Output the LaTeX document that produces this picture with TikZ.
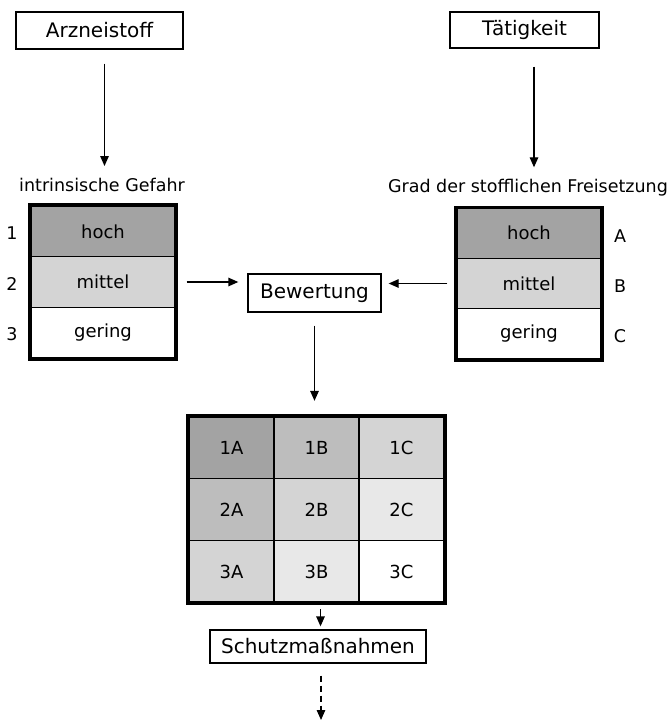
\documentclass[tikz,border=0pt]{standalone}
\usepackage{fontspec}
\setmainfont{DejaVu Sans}
\usetikzlibrary{arrows.meta}

\definecolor{levelA}{gray}{0.64}
\definecolor{levelB}{gray}{0.74}
\definecolor{levelC}{gray}{0.83}
\definecolor{levelD}{gray}{0.91}

\tikzset{
  titlebox/.style={draw, line width=1.3pt, inner sep=0pt, font=\fontsize{20}{24}\selectfont},
  rowbox/.style={draw, line width=1.3pt, minimum width=144pt, inner sep=0pt, font=\fontsize{18}{21}\selectfont},
  cellbox/.style={draw, line width=1.3pt, minimum width=85pt, minimum height=62pt, inner sep=0pt, font=\fontsize{18}{21}\selectfont},
  smalltext/.style={inner sep=2pt, font=\fontsize{17.5}{21}\selectfont},
  arr/.style={-{Triangle[length=10pt,width=8.5pt]}, line width=1.3pt},
  outline/.style={line width=3.8pt}
}

\begin{document}
\begin{tikzpicture}[x=1pt, y=-1pt]

\useasboundingbox (0, 0) rectangle (671, 722);

% Eingaben
\node[titlebox, minimum width=167pt, minimum height=37pt] (arznei) at (99.5, 30.5) {Arzneistoff};
\node[titlebox, minimum width=149pt, minimum height=36pt] (taetig) at (524.5, 30) {Tätigkeit};

\node[smalltext] (gefahr) at (102, 185) {intrinsische Gefahr};
\node[smalltext] (freisetz) at (528, 188) {Grad der stofflichen Freisetzung};

\draw[arr, shorten <=14pt, shorten >=10pt] ([xshift=5pt]arznei.south) -- ([xshift=5pt]arznei.south |- gefahr.north);
\draw[arr, shorten <=18pt, shorten >=10pt] ([xshift=9.5pt]taetig.south) -- ([xshift=9.5pt]taetig.south |- freisetz.north);

% linke Tabelle
\node[rowbox, fill=levelA, minimum height=50.7pt] (lhoch) at (103, 231.3) {hoch};
\node[rowbox, fill=levelC, minimum height=50.7pt] (lmittel) at (103, 282) {mittel};
\node[rowbox, fill=white, minimum height=50.7pt] (lgering) at (103, 332.7) {gering};
\draw[outline] (lhoch.north west) rectangle (lgering.south east);

\node[smalltext] (n1) at (12, 233) {1};
\node[smalltext] (n2) at (12, 284) {2};
\node[smalltext] (n3) at (12, 334) {3};

% rechte Tabelle
\node[rowbox, fill=levelA, minimum height=50.3pt] (rhoch) at (529, 233.2) {hoch};
\node[rowbox, fill=levelC, minimum height=50.3pt] (rmittel) at (529, 283.5) {mittel};
\node[rowbox, fill=white, minimum height=50.3pt] (rgering) at (529, 333.8) {gering};
\draw[outline] (rhoch.north west) rectangle (rgering.south east);

\node[smalltext] (la) at (620, 236) {A};
\node[smalltext] (lb) at (620, 286) {B};
\node[smalltext] (lc) at (620, 336) {C};

% Bewertung
\node[titlebox, minimum width=133pt, minimum height=38pt] (bewert) at (314.5, 293) {Bewertung};

\draw[arr, shorten <=11pt, shorten >=9pt] (lmittel.east) -- (bewert.west |- lmittel.east);
\draw[arr, shorten <=9pt, shorten >=7pt] (rmittel.west) -- (bewert.east |- rmittel.west);

% Matrix
\node[cellbox, fill=levelA] (c1A) at (231.5, 447.5) {1A};
\node[cellbox, fill=levelB] (c1B) at (316.5, 447.5) {1B};
\node[cellbox, fill=levelC] (c1C) at (401.5, 447.5) {1C};
\node[cellbox, fill=levelB] (c2A) at (231.5, 509.5) {2A};
\node[cellbox, fill=levelC] (c2B) at (316.5, 509.5) {2B};
\node[cellbox, fill=levelD] (c2C) at (401.5, 509.5) {2C};
\node[cellbox, fill=levelC] (c3A) at (231.5, 571.5) {3A};
\node[cellbox, fill=levelD] (c3B) at (316.5, 571.5) {3B};
\node[cellbox, fill=white] (c3C) at (401.5, 571.5) {3C};
\draw[outline] (c1A.north west) rectangle (c3C.south east);

\draw[arr, shorten <=13pt, shorten >=15pt] (bewert.south) -- (bewert.south |- c1B.north);

% Schutzmassnahmen
\node[titlebox, minimum width=216pt, minimum height=33pt] (schutz) at (318, 646.5) {Schutzmaßnahmen};
\coordinate (ende) at (321, 720);

\draw[arr, shorten <=6pt, shorten >=3pt] ([xshift=4pt]c3B.south) -- ([xshift=4pt]c3B.south |- schutz.north);
\draw[arr, dash pattern=on 6pt off 4pt, shorten <=12pt] (schutz.south -| ende) -- (ende);

\end{tikzpicture}
\end{document}
